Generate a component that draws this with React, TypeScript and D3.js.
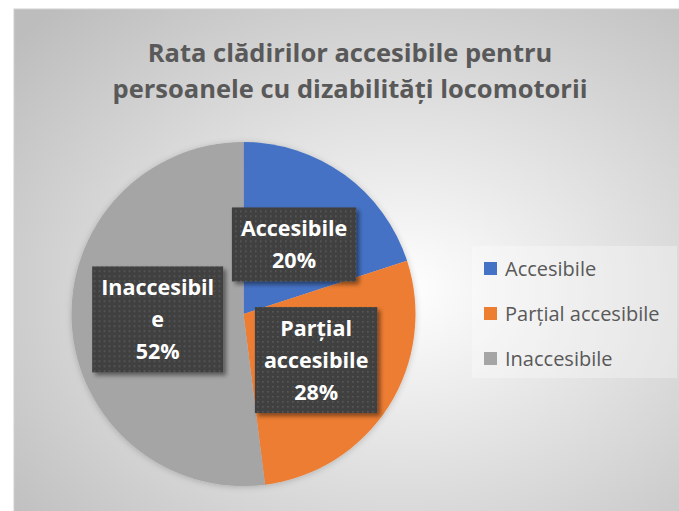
import React from "react";
import * as d3 from "d3";

const title = ["Rata clădirilor accesibile pentru", "persoanele cu dizabilități locomotorii"];
const categories = ["Accesibile", "Parțial accesibile", "Inaccesibile"];
const values = [20, 28, 52];
const colors = ["#4472C4", "#ED7D31", "#A5A5A5"];
const labelLines = [["Accesibile", "20%"], ["Parțial", "accesibile", "28%"], ["Inaccesibil", "e", "52%"]];

const W = 679;
const H = 511;
const FONT = "'Open Sans', 'Noto Sans', sans-serif";

function measure(text: string, font: string): number {
  if (typeof document === "undefined") return text.length * 10;
  const c = document.createElement("canvas");
  const ctx = c.getContext("2d");
  if (!ctx) return text.length * 10;
  ctx.font = font;
  return ctx.measureText(text).width;
}

export default function App() {
  const cx = 243.5;
  const cy = 314;
  const r = 172;
  const pie = d3.pie<number>().sort(null).value((d) => d)(values);
  const arc = d3.arc<d3.PieArcDatum<number>>().innerRadius(0).outerRadius(r);
  const labelSize = 21.5;
  const labelFont = `bold ${labelSize}px ${FONT}`;
  const lineH = 32;

  return (
    <svg width={W} height={H} style={{ position: "absolute", left: 0, top: 0 }}>
      <defs>
        <radialGradient id="bg" cx="0.57" cy="0.55" r="0.75">
          <stop offset="0" stopColor="#ffffff" />
          <stop offset="1" stopColor="#bdbdbd" />
        </radialGradient>
        <pattern id="dots" width="5" height="5" patternUnits="userSpaceOnUse">
          <rect width="5" height="5" fill="#404040" />
          <rect x="1" y="1" width="1.5" height="1.5" fill="#5e5e5e" />
        </pattern>
        <filter id="shadow" x="-20%" y="-20%" width="150%" height="150%">
          <feDropShadow dx="3" dy="3" stdDeviation="2" floodColor="#000" floodOpacity="0.45" />
        </filter>
        <filter id="pieShadow" x="-10%" y="-10%" width="120%" height="120%">
          <feDropShadow dx="0" dy="1" stdDeviation="3" floodColor="#000" floodOpacity="0.2" />
        </filter>
      </defs>
      <rect x={14} y={9} width={W} height={H} fill="url(#bg)" stroke="#d0d0d0" strokeWidth={1} />
      <text textAnchor="middle" fontFamily={FONT} fontWeight="bold" fontSize={25.5} fill="#595959">
        {title.map((t, i) => (
          <tspan key={i} x={350} y={62 + i * 36}>{t}</tspan>
        ))}
      </text>
      <g transform={`translate(${cx},${cy})`} filter="url(#pieShadow)">
        {pie.map((p, i) => (
          <path key={i} d={arc(p) || ""} fill={colors[i]} />
        ))}
      </g>
      <g transform={`translate(${cx},${cy})`}>
        {pie.map((p, i) => {
          const [x, y] = arc.centroid(p);
          const lines = labelLines[i];
          const w = Math.max(...lines.map((l) => measure(l, labelFont))) + 18;
          const h = lines.length * lineH + 10;
          return (
            <g key={i} transform={`translate(${x},${y})`}>
              <rect x={-w / 2} y={-h / 2} width={w} height={h} fill="url(#dots)" filter="url(#shadow)" />
              <text textAnchor="middle" fontFamily={FONT} fontWeight="bold" fontSize={labelSize} fill="#ffffff">
                {lines.map((l, j) => (
                  <tspan key={j} x={0} y={-h / 2 + 5 + lineH * (j + 1) - 8}>{l}</tspan>
                ))}
              </text>
            </g>
          );
        })}
      </g>
      <g>
        <rect x={472} y={246} width={205} height={132} fill="#ffffff" fillOpacity={0.3} />
        {categories.map((c, i) => (
          <g key={i} transform={`translate(484,${262 + i * 45})`}>
            <rect x={0} y={0} width={13} height={13} fill={colors[i]} />
            <text x={21} y={13.5} fontFamily={FONT} fontSize={20} fill="#595959">{c}</text>
          </g>
        ))}
      </g>
    </svg>
  );
}
